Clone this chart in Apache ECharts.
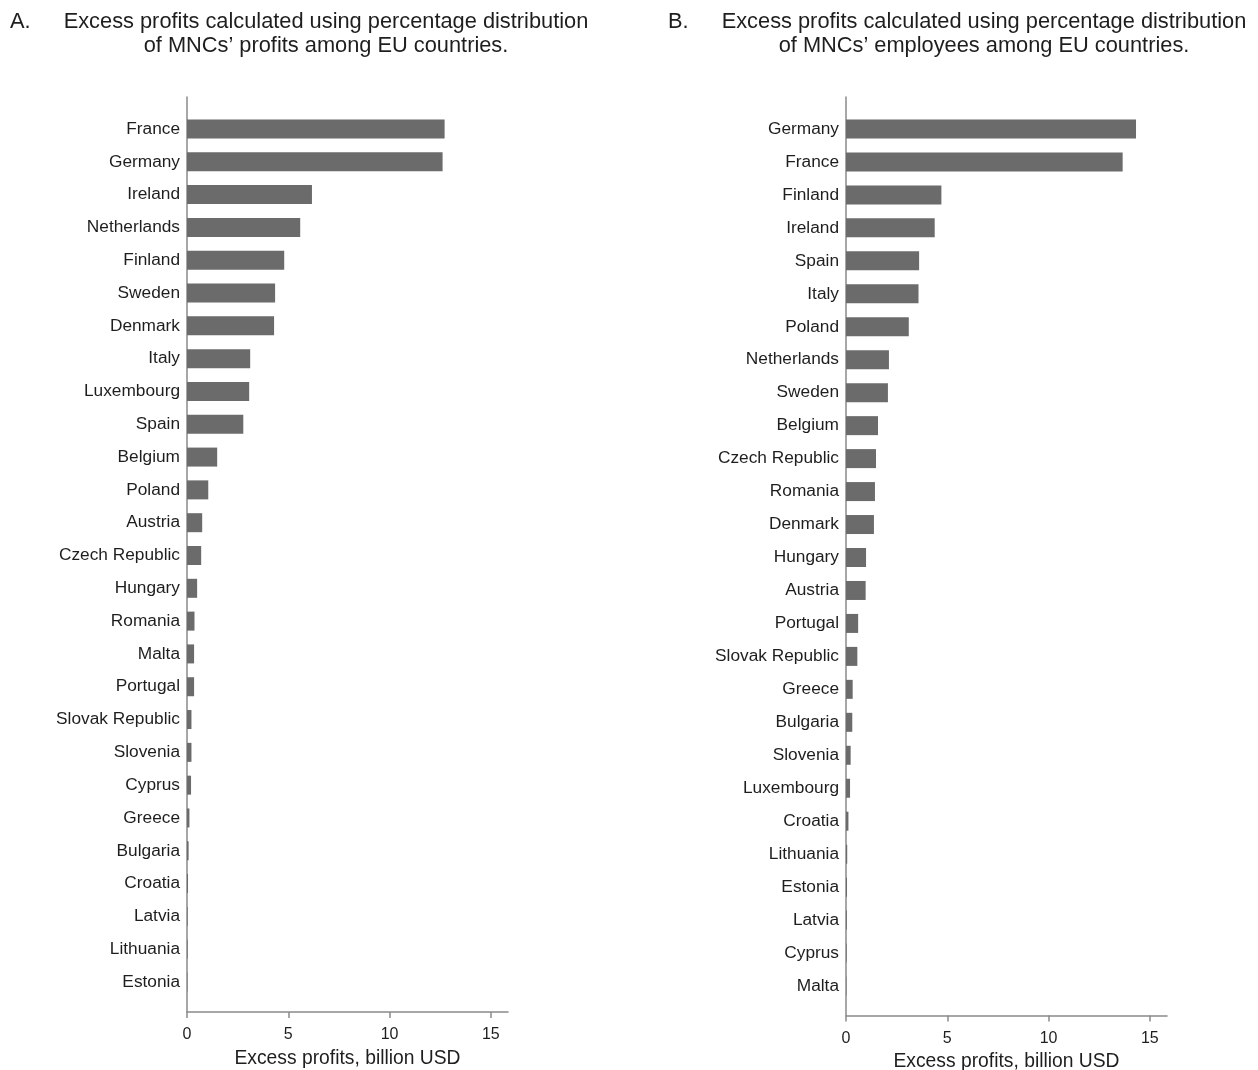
<!DOCTYPE html>
<html>
<head>
<meta charset="utf-8">
<script src="https://cdn.jsdelivr.net/npm/echarts@6/dist/echarts.min.js"></script>
<style>
  html, body { margin: 0; padding: 0; background: #ffffff; }
  #chart { width: 1258px; height: 1070px; }
</style>
</head>
<body>
<div id="chart"></div>
<script>
// Panel A: excess profits by share of MNC profits
const countriesA = ['France', 'Germany', 'Ireland', 'Netherlands', 'Finland', 'Sweden', 'Denmark',
  'Italy', 'Luxembourg', 'Spain', 'Belgium', 'Poland', 'Austria', 'Czech Republic', 'Hungary',
  'Romania', 'Malta', 'Portugal', 'Slovak Republic', 'Slovenia', 'Cyprus', 'Greece', 'Bulgaria',
  'Croatia', 'Latvia', 'Lithuania', 'Estonia'];
const valuesA = [12.72, 12.62, 6.17, 5.59, 4.8, 4.35, 4.3, 3.12, 3.07, 2.78, 1.49, 1.05, 0.75, 0.7,
  0.5, 0.37, 0.35, 0.35, 0.22, 0.22, 0.2, 0.12, 0.08, 0.05, 0.03, 0.03, 0.02];

// Panel B: excess profits by share of MNC employees
const countriesB = ['Germany', 'France', 'Finland', 'Ireland', 'Spain', 'Italy', 'Poland',
  'Netherlands', 'Sweden', 'Belgium', 'Czech Republic', 'Romania', 'Denmark', 'Hungary', 'Austria',
  'Portugal', 'Slovak Republic', 'Greece', 'Bulgaria', 'Slovenia', 'Luxembourg', 'Croatia',
  'Lithuania', 'Estonia', 'Latvia', 'Cyprus', 'Malta'];
const valuesB = [14.32, 13.66, 4.71, 4.38, 3.61, 3.58, 3.1, 2.12, 2.07, 1.58, 1.48, 1.43, 1.38,
  0.99, 0.97, 0.6, 0.56, 0.33, 0.31, 0.23, 0.2, 0.12, 0.06, 0.05, 0.04, 0.03, 0.02];

const xTicks = [0, 5, 10, 15];
const xMax = 15.85;
const axisTitle = 'Excess profits, billion USD';
const titleA = 'Excess profits calculated using percentage distribution\nof MNCs\u2019 profits among EU countries.';
const titleB = 'Excess profits calculated using percentage distribution\nof MNCs\u2019 employees among EU countries.';

const FONT = '"Liberation Sans", Arial, Helvetica, sans-serif';
const TEXT = '#1e1e1e';
const BAR = '#6b6b6b';
const AXIS = '#8a8a8a';

const chart = echarts.init(document.getElementById('chart'), null, { renderer: 'canvas' });

// each panel uses two grids: one holding the bars in category bands,
// one slightly taller carrying the visible axis frame
function panel(left, barTop, barHeight, frameTop, frameHeight) {
  return {
    barGrid: { left: left, top: barTop, width: 321, height: barHeight, outerBoundsMode: 'none' },
    frameGrid: { left: left, top: frameTop, width: 321, height: frameHeight, outerBoundsMode: 'none' }
  };
}
const pA = panel(187, 112.6, 885.8, 97, 915);
const pB = panel(846, 112.5, 890, 97, 918.5);

function hiddenX(gridIndex) {
  return { type: 'value', gridIndex, min: 0, max: xMax, show: false, splitLine: { show: false } };
}
function frameX(gridIndex) {
  return {
    type: 'value', gridIndex, min: 0, max: xMax, interval: 5,
    axisLine: { show: true, lineStyle: { color: AXIS, width: 1.5 } },
    axisTick: { show: true, length: 6, lineStyle: { color: AXIS, width: 1.5 }, customValues: xTicks },
    axisLabel: { show: true, customValues: xTicks, fontSize: 16, color: TEXT, fontFamily: FONT, margin: 15 },
    splitLine: { show: false },
    name: axisTitle, nameLocation: 'middle', nameGap: 37,
    nameTextStyle: { fontSize: 19.3, color: TEXT, fontFamily: FONT }
  };
}
function catY(gridIndex, names) {
  return {
    type: 'category', gridIndex, data: names, inverse: true,
    axisLine: { show: false }, axisTick: { show: false },
    axisLabel: { fontSize: 17.3, color: TEXT, fontFamily: FONT, margin: 7 },
    splitLine: { show: false }
  };
}
function frameY(gridIndex) {
  return {
    type: 'value', gridIndex, min: 0, max: 1,
    axisLine: { show: true, onZero: false, lineStyle: { color: AXIS, width: 1.5 } },
    axisTick: { show: false }, axisLabel: { show: false }, splitLine: { show: false }
  };
}
function bars(index, values) {
  return {
    type: 'bar', xAxisIndex: index, yAxisIndex: index, data: values,
    barWidth: 19, itemStyle: { color: BAR }, silent: true, animation: false
  };
}
function titleText(x, body) {
  return [
    { type: 'text', style: { text: body, x: x, y: 10, align: 'center', verticalAlign: 'top',
      fontSize: 21.8, lineHeight: 24, fontFamily: FONT, fill: TEXT } }
  ];
}

chart.setOption({
  animation: false,
  backgroundColor: '#ffffff',
  grid: [pA.barGrid, pA.frameGrid, pB.barGrid, pB.frameGrid],
  xAxis: [hiddenX(0), frameX(1), hiddenX(2), frameX(3)],
  yAxis: [catY(0, countriesA), frameY(1), catY(2, countriesB), frameY(3)],
  series: [bars(0, valuesA), bars(2, valuesB)],
  graphic: [
    { type: 'text', style: { text: 'A.', x: 10, y: 10, verticalAlign: 'top', fontSize: 21.8, lineHeight: 24, fontFamily: FONT, fill: TEXT } },
    { type: 'text', style: { text: 'B.', x: 668, y: 10, verticalAlign: 'top', fontSize: 21.8, lineHeight: 24, fontFamily: FONT, fill: TEXT } },
    ...titleText(326, titleA),
    ...titleText(984, titleB)
  ]
});
</script>
</body>
</html>
